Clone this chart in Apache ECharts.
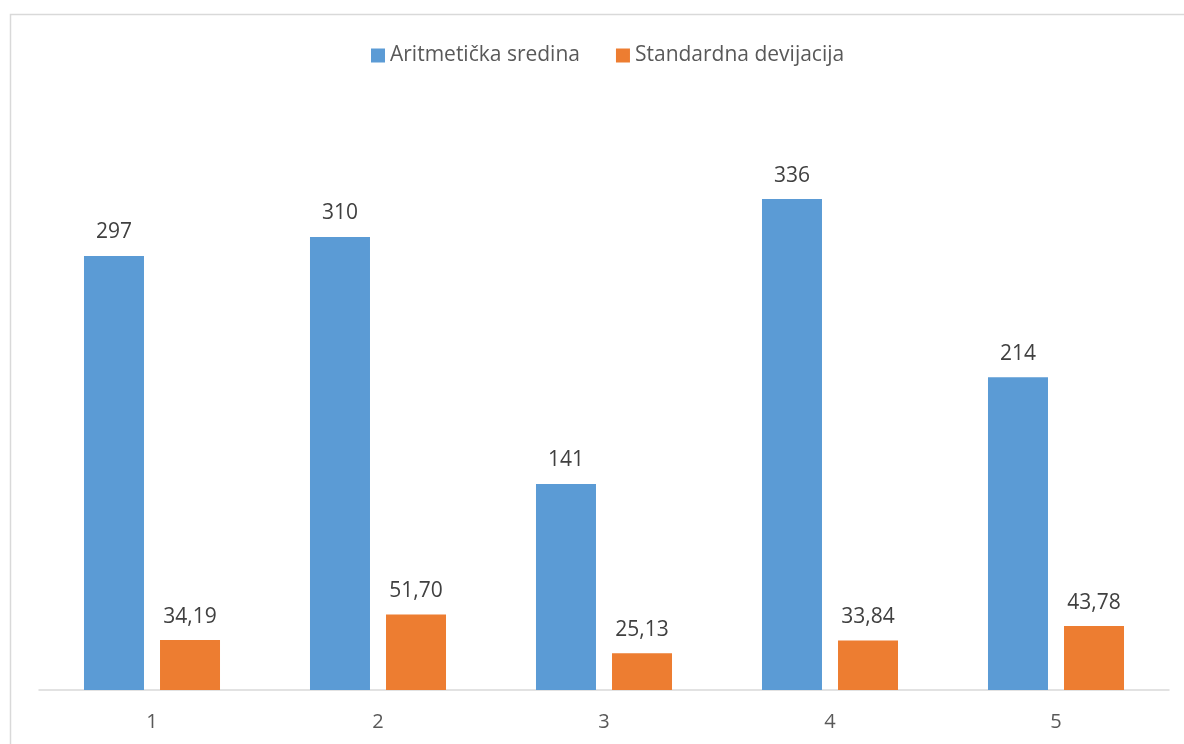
<!DOCTYPE html>
<html><head><meta charset="utf-8">
<script src="https://cdn.jsdelivr.net/npm/echarts@6/dist/echarts.min.js"></script>
<style>html,body{margin:0;padding:0;background:#fff}#c{width:1184px;height:744px}</style>
</head><body><div id="c"></div>
<script>
const categories = ['1', '2', '3', '4', '5'];
const meanValues = [297, 310, 141, 336, 214];
const sdValues = [34.19, 51.70, 25.13, 33.84, 43.78];
const seriesNames = ['Aritmetička sredina', 'Standardna devijacija'];

const font = '"Open Sans", "Noto Sans", sans-serif';
const chart = echarts.init(document.getElementById('c'), null, {renderer: 'canvas'});
const labelStyle = {show: true, position: 'top', distance: 13, color: '#404040', fontSize: 21, fontFamily: font};
chart.setOption({
  animation: false,
  backgroundColor: '#fff',
  graphic: [{type: 'rect', shape: {x: 10.5, y: 14.5, width: 1300, height: 900}, style: {fill: 'none', stroke: '#d9d9d9', lineWidth: 1.5}, silent: true}],
  legend: {
    top: 45, left: 371, padding: 0, itemWidth: 14, itemHeight: 14, itemGap: 36,
    icon: 'rect',
    textStyle: {color: '#595959', fontSize: 21, fontFamily: font},
    data: seriesNames
  },
  grid: {left: 39, right: 15, top: 105.5, bottom: 54, containLabel: false},
  xAxis: {
    type: 'category', data: categories,
    axisLine: {lineStyle: {color: '#d9d9d9', width: 1.5}},
    axisTick: {show: false},
    axisLabel: {color: '#595959', fontSize: 20, fontFamily: font, margin: 22}
  },
  yAxis: {type: 'value', min: 0, max: 400, show: false, splitLine: {show: false}},
  series: [
    {name: seriesNames[0], type: 'bar', data: meanValues, barWidth: 60, barGap: '26.7%',
     itemStyle: {color: '#5b9bd5'}, label: Object.assign({}, labelStyle, {formatter: p => String(p.value)})},
    {name: seriesNames[1], type: 'bar', data: sdValues, barWidth: 60,
     itemStyle: {color: '#ed7d31'}, label: Object.assign({}, labelStyle, {formatter: p => p.value.toFixed(2).replace('.', ',')})}
  ]
});
</script></body></html>
